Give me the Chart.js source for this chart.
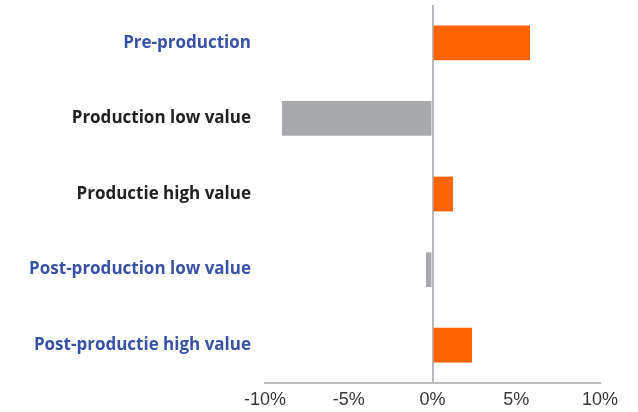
<!DOCTYPE html>
<html>
<head>
<meta charset="utf-8">
<script src="https://cdn.jsdelivr.net/npm/chart.js@4/dist/chart.umd.min.js"></script>
<style>
  html, body { margin: 0; padding: 0; background: #fff; }
  #wrap { width: 638px; height: 412px; }
</style>
</head>
<body>
<div id="wrap"><canvas id="c" width="638" height="412"></canvas></div>
<script>
const categories = ["Pre-production", "Production low value", "Productie high value", "Post-production low value", "Post-productie high value"];
const values = [5.82, -8.99, 1.22, -0.39, 2.36];
const xTicks = [-10, -5, 0, 5, 10];

const labelColors = ["#3a52a4", "#222222", "#222222", "#3a52a4", "#3a52a4"];

new Chart(document.getElementById('c'), {
  type: 'bar',
  data: {
    labels: categories,
    datasets: [{
      data: values,
      backgroundColor: ctx => (ctx.raw >= 0 ? '#ff6200' : '#a8a9ad'),
      borderWidth: 0,
      barPercentage: 0.46,
      categoryPercentage: 1
    }]
  },
  options: {
    indexAxis: 'y',
    responsive: false,
    animation: false,
    layout: { padding: { top: 5, right: 38, left: 0, bottom: 0 } },
    plugins: { legend: { display: false }, tooltip: { enabled: false } },
    scales: {
      x: {
        min: -10, max: 10,
        afterBuildTicks: s => { s.ticks = xTicks.map(v => ({ value: v })); },
        afterFit: s => { s.height = 29; s.paddingLeft = 0; s.paddingRight = 0; },
        border: { display: true, color: '#bbbbbb', width: 2 },
        grid: {
          drawTicks: false,
          lineWidth: 2,
          color: ctx => (ctx.tick && ctx.tick.value === 0 ? '#b8b8c0' : 'rgba(0,0,0,0)')
        },
        ticks: {
          padding: 6,
          color: '#383838',
          font: { family: 'Liberation Sans', size: 18 },
          callback: v => v + '%'
        }
      },
      y: {
        afterFit: s => { s.width = 265; s.paddingTop = 0; s.paddingBottom = 0; },
        border: { display: false },
        grid: { display: false, drawTicks: false },
        ticks: {
          padding: 14,
          color: labelColors,
          font: { family: 'Open Sans', size: 17, weight: '700' }
        }
      }
    }
  }
});
</script>
</body>
</html>
